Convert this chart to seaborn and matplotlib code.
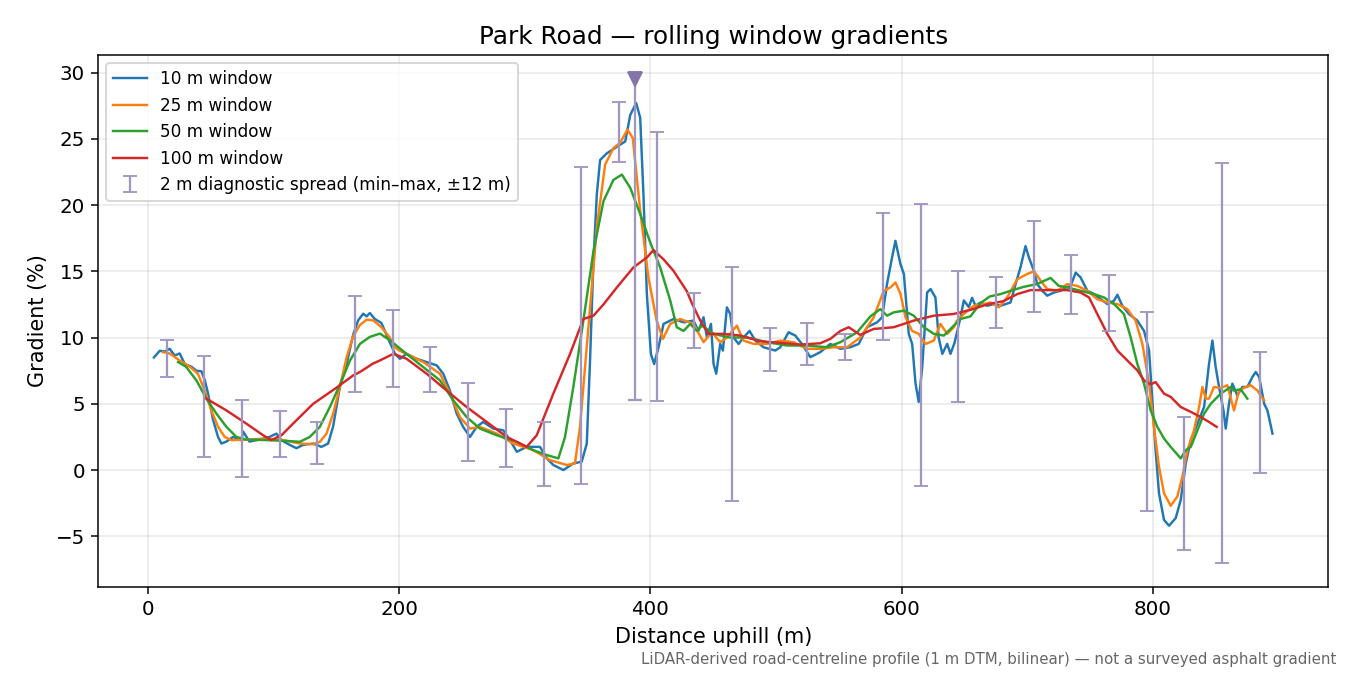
import numpy as np
import pandas as pd
import matplotlib
matplotlib.use("Agg")
import matplotlib.pyplot as plt
import seaborn as sns

# --- data ---
x10 = [5, 9.6, 13.5, 17.5, 21.5, 25.5, 29.5, 34.8, 38.8, 42.8, 45.4, 48, 52, 56, 58.7, 62.7, 68, 74.5, 76, 81,
       89, 97, 102.5, 106.5, 113, 118.4, 123.7, 131.7, 138.3, 143.6, 147.6, 153, 158.3, 163.5, 167.5, 171.5,
       174.2, 176.8, 180.8, 186, 191.4, 196.7, 200.7, 206, 214, 222, 230, 235.2, 240.5, 245.9, 251, 256.5,
       261.8, 267, 275, 283, 288.3, 293.7, 301.6, 312.2, 317.6, 322.8, 330.8, 338.7, 345.4, 349.4, 352,
       354.7, 357.4, 360, 365.3, 373.3, 380, 384, 388.7, 391.9, 394.5, 397.2, 400.4, 403, 406.5, 410.5,
       418.4, 426.4, 434.3, 438.3, 442.3, 445, 448.2, 450.3, 452.4, 455.6, 457.7, 460.9, 463.5, 466.2,
       470.2, 474.1, 478.9, 483.5, 490, 499.4, 503.4, 510, 515.3, 520.6, 527.3, 535.2, 543.2, 551.2,
       559.1, 565.8, 572.4, 580.4, 584.4, 588.3, 592.3, 595, 599, 601.7, 605.6, 608.3, 611, 613.5, 616.3,
       620.2, 622.9, 626.8, 629.4, 632.3, 636.2, 638.8, 642, 646.7, 649.4, 653.4, 656, 658.7, 662.7, 668,
       673.4, 678.6, 686.6, 690.6, 694.5, 698.5, 701.2, 705.2, 707.8, 711.8, 715.8, 721.1, 726.4, 730.4,
       734.4, 738.4, 742.3, 747.7, 753, 758.3, 763.6, 768.9, 771.6, 775.5, 780.8, 787.5, 792.8, 796.8,
       799.4, 802, 804.7, 808.7, 812.7, 818, 822, 826, 830, 835.3, 840.6, 844.5, 847.2, 849.8, 852.5, 856,
       857.8, 860.4, 863.1, 867, 871, 875, 879, 881.7, 884.4, 888.4, 891, 895]
y10 = [8.5, 9.0, 8.95, 9.15, 8.65, 8.8, 8.0, 7.8, 7.5, 7.45, 6.8, 5.8, 3.8, 2.5, 2.0, 2.15, 2.5, 2.25, 2.9, 2.15,
       2.3, 2.5, 2.75, 2.25, 1.9, 1.65, 1.9, 2.0, 1.75, 2.0, 3.3, 6.3, 8.0, 10.2, 11.3, 11.8,
       11.6, 11.85, 11.4, 11.1, 9.9, 8.8, 8.4, 8.77, 8.4, 8.15, 7.9, 7.27, 6.0, 4.26, 3.26, 2.5,
       3.26, 3.63, 3.13, 3.0, 2.26, 1.38, 1.75, 1.75, 0.88, 0.38, 0.0, 0.5, 0.63, 2.0, 8.27,
       15.8, 20.8, 23.4, 23.9, 24.4, 24.8, 26.8, 27.7, 26.6, 20.8, 13.3, 8.77, 8.0, 9.27, 11.03,
       11.4, 11.15, 11.28, 10.5, 11.53, 10.0, 11.03, 8.0, 7.27, 9.52, 9.02, 12.28, 11.78, 10.0,
       9.52, 10.0, 10.5, 9.77, 9.27, 9.02, 9.27, 10.4, 10.15, 9.52, 8.52, 8.9, 9.52, 9.15,
       9.27, 9.52, 10.78, 11.15, 11.53, 14.04, 16.04, 17.3, 15.54, 14.8, 10.28, 9.52, 6.52, 5.14, 7.77,
       13.4, 13.66, 13.03, 10.0, 8.77, 9.52, 8.77, 9.6, 11.5, 12.8, 12.3, 13.0, 12.4, 12.65, 12.4,
       12.53, 12.4, 12.65, 14.04, 15.3, 16.9, 16.04, 15.04, 14.04, 13.53, 13.16, 13.4, 13.53, 13.78,
       13.9, 14.9, 14.54, 13.53, 13.28, 12.9, 12.53, 12.78, 13.23, 12.4, 11.78, 11.28, 10.5, 9.02,
       5.26, 1.5, -1.75, -3.76, -4.2, -3.63, -2.26, 0.5, 2.26, 3.5, 4.76, 8.0, 9.77, 7.77, 6.27, 4.5,
       3.13, 5.0, 6.52, 5.64, 6.27, 6.27, 7.02, 7.4, 7.02, 5.0, 4.5, 2.75]

x25 = [12.2, 17.5, 25.5, 33.5, 40, 45.4, 50.7, 56, 61.3, 66.7, 81, 94.5, 107.8, 121, 131.7, 137, 142.3, 147.6,
       153, 158.3, 163.5, 168.9, 174.2, 179.5, 186, 192.7, 196, 200.7, 206, 219.3, 232.6, 240.5, 248.5,
       256.5, 264.4, 277.7, 291, 306.9, 320.2, 333.5, 340, 344, 350.7, 357.4, 364, 370.6, 376, 381.8, 386,
       392, 398.5, 405, 410, 415.8, 423.7, 434.3, 442.3, 448.9, 455.6, 460.9, 468.8, 474.1, 482.1, 492.8,
       503.4, 514, 524.6, 535.2, 545.9, 556.5, 567, 577.7, 585.7, 591, 595, 599, 603, 608.3, 613.5, 618.9,
       625.5, 630.8, 636.2, 641.4, 644, 649.4, 657.4, 665.4, 670.7, 677.3, 683.9, 691.9, 699.9, 705.2,
       710.5, 715.8, 723.8, 731.7, 739.7, 747.7, 755.6, 763.6, 771.6, 779.5, 786.1, 791.5, 796.8, 800.7,
       804.7, 808.7, 814, 819.3, 823.3, 827.3, 832.6, 836.6, 839.3, 841.9, 844.5, 848.5, 853.8, 859.1,
       864.4, 868.4, 873.7, 877.7, 883, 888.3]
y25 = [8.9, 8.8, 8.27, 7.8, 7.27, 6.0, 4.5, 3.26, 2.5, 2.26, 2.3, 2.38, 2.26, 2.0, 1.95, 2.13, 2.75, 4.26,
       6.27, 8.5, 10.1, 10.95, 11.35, 11.3, 10.78, 10.0, 9.3, 9.0, 8.77, 8.15, 7.27, 5.77, 4.0,
       3.13, 3.26, 2.75, 2.0, 1.5, 0.75, 0.38, 0.5, 3.26, 10.78, 18.3, 23.06, 24.3, 24.7, 25.7, 25.06,
       19.5, 14.5, 11.28, 9.9, 11.03, 11.4, 11.03, 9.65, 10.4, 9.65, 10.0, 10.9, 9.77, 9.52, 9.52,
       9.77, 9.65, 9.15, 9.15, 9.27, 9.27, 10.0, 11.53, 13.53, 13.78, 14.16, 13.3, 11.53, 10.5, 10.28, 9.52,
       9.77, 11.03, 10.28, 10.78, 11.28, 11.78, 12.4, 12.53, 12.65, 12.28, 13.03, 14.4, 14.8, 15.0,
       14.3, 13.66, 13.53, 14.04, 13.9, 13.53, 12.9, 12.65, 12.53, 12.15, 11.28, 9.52, 6.52, 3.26,
       0.25, -1.75, -2.7, -2.0, -0.5, 1.5, 3.0, 4.76, 6.27, 5.39, 5.39, 6.27, 6.2, 6.4,
       4.5, 6.0, 6.27, 6.4, 6.0, 5.26]

x50 = [24.2, 30.5, 38.8, 46.7, 54.7, 62.7, 70.6, 78.5, 94.5, 110.5, 121, 129, 137, 145, 153, 161, 168.9,
       176.8, 184.8, 192.7, 206, 219.3, 232.6, 243.2, 253.8, 264.4, 277.7, 293.7, 306.9, 317.6, 326.8,
       332.1, 338.7, 346.7, 354.7, 362.7, 370.6, 377.3, 384, 392, 399.8, 407.8, 415.8, 421, 426.4, 431.7,
       437, 441, 450.3, 463.5, 477.5, 492.8, 508.7, 524.6, 540.5, 551.2, 564.5, 575.1, 583, 588.3, 593.6,
       601.7, 609.6, 617.6, 625.5, 633.5, 638.8, 646.7, 654.7, 662.7, 670, 678.6, 686.6, 697.2, 707.8,
       718.4, 725, 731.7, 742.3, 753, 760.9, 768.9, 776.8, 782.2, 787.5, 792.8, 798.1, 803.4, 808.7, 814,
       822, 826, 830, 835.3, 840.6, 845.9, 853.8, 861.8, 864.4, 869.7, 875]
y50 = [8.15, 7.8, 6.77, 5.39, 4.26, 3.26, 2.5, 2.3, 2.26, 2.2, 2.13, 2.5, 3.26, 4.76, 6.45, 8.27, 9.52,
       10.05, 10.3, 9.8, 8.77, 7.77, 6.77, 5.26, 4.0, 3.13, 2.63, 2.13, 1.5, 1.13, 0.88,
       2.5, 6.27, 11.28, 16.5, 20.3, 21.9, 22.3, 21.3, 19.3, 17.2, 15.3, 12.8, 10.78, 10.5, 11.03,
       10.5, 10.9, 10.28, 10.0, 10.0, 9.65, 9.4, 9.4, 9.27, 9.65, 10.4, 11.6, 12.15, 11.65, 11.9,
       12.03, 11.65, 10.78, 10.28, 10.15, 10.65, 11.4, 11.6, 12.6, 13.1, 13.28, 13.53, 13.83, 14.04,
       14.5, 13.9, 13.78, 13.53, 13.28, 13.03, 12.53, 11.78, 10.0, 8.0, 6.52, 4.5, 3.26, 2.38, 1.75,
       0.88, 1.5, 1.75, 3.0, 4.26, 5.0, 5.77, 6.27, 6.0, 6.1, 5.39]

x100 = [46.7, 62.7, 78.6, 91.8, 98.5, 106.5, 118.4, 131.7, 150, 163.5, 168.9, 179.5, 184.8, 195.4, 206, 222,
        237.9, 253.8, 269.8, 285.7, 301.6, 309.6, 322.8, 336.1, 346.7, 354.7, 362.7, 373.3, 386.6, 397.2,
        402.5, 410.5, 418.4, 429, 433, 439.7, 446.3, 458.3, 471.5, 487.5, 503.4, 519.3, 535.2, 543.2,
        551.2, 557.8, 567, 577.7, 593.6, 609.6, 625.5, 641.4, 655, 668, 681, 691.9, 702.5, 718.4, 731.7,
        742.3, 749, 755.6, 763.6, 771.6, 779.5, 787.5, 792.8, 798.1, 802, 808.7, 814, 822, 830, 838, 844.5,
        850.6]
y100 = [5.39, 4.5, 3.5, 2.63, 2.26, 2.63, 3.76, 5.0, 6.2, 7.14, 7.4, 8.05, 8.27, 8.77, 8.4, 7.27,
        6.0, 4.76, 3.63, 2.5, 1.75, 2.63, 5.77, 8.77, 11.4, 11.65, 12.5, 13.78, 15.3, 16.04,
        16.6, 15.9, 15.04, 13.5, 12.6, 11.28, 10.28, 10.28, 10.15, 9.72, 9.6, 9.47, 9.57, 9.9,
        10.5, 10.78, 10.2, 10.65, 10.78, 11.28, 11.65, 11.78, 12.1, 12.5, 12.75, 13.28, 13.58, 13.58, 13.58,
        13.4, 13.03, 11.78, 10.28, 9.02, 8.27, 7.52, 6.77, 6.47, 6.64, 5.77, 5.52, 4.76, 4.39, 4.0, 3.63,
        3.26]

spread_x = list(range(15, 900, 30))
spread_lo = [7.0, 1.0, -0.5, 1.0, 0.43, 5.9, 6.27, 5.9, 0.65, 0.2, -1.18, -1.05, 23.25, 5.2, 9.2, -2.3,
             7.5, 7.9, 8.3, 9.85, -1.2, 5.1, 10.7, 11.95, 11.75, 10.5, -3.1, -6.0, -7.0, -0.2]
spread_hi = [9.8, 8.6, 5.3, 4.45, 3.63, 13.16, 12.1, 9.3, 6.6, 4.6, 3.63, 22.9, 27.8, 25.5, 13.4, 15.3,
             10.7, 11.1, 10.25, 19.4, 20.1, 15.06, 14.6, 18.8, 16.2, 14.7, 11.95, 4.0, 23.2, 8.9]

peak_x = 388
peak_lo = 5.3
peak_hi = 29.5

fig, ax = plt.subplots(figsize=(10, 5), dpi=135)
fig.subplots_adjust(left=0.0726, right=0.984, top=0.9185, bottom=0.1304)

series = [(x10, y10, "10 m window", "C0"),
          (x25, y25, "25 m window", "C1"),
          (x50, y50, "50 m window", "C2"),
          (x100, y100, "100 m window", "C3")]
for xs, ys, lab, col in series:
    df = pd.DataFrame({"d": xs, "g": ys})
    sns.lineplot(data=df, x="d", y="g", ax=ax, label=lab, color=col,
                 linewidth=1.3, estimator=None)

lo = np.array(spread_lo)
hi = np.array(spread_hi)
mid = (lo + hi) / 2
bar_col = "#a196c2"
ax.errorbar(spread_x, mid, yerr=[mid - lo, hi - mid], fmt="none", ecolor=bar_col,
            elinewidth=1.2, capsize=3.5, label="2 m diagnostic spread (min\u2013max, \u00b112 m)")

# peak spread: line up to the marker, cap only at the bottom
ax.vlines(peak_x, peak_lo, peak_hi, color=bar_col, linewidth=1.2)
ax.plot([peak_x], [peak_lo], marker="_", markersize=7, markeredgewidth=1.2,
        color=bar_col, linestyle="none")
ax.plot([peak_x], [peak_hi], marker="v", color="#8474a8", markersize=7, linestyle="none", zorder=5)

ax.grid(alpha=0.3)
ax.tick_params(labelsize=10.6)
ax.set_title("Park Road \u2014 rolling window gradients", fontsize=13.2)
ax.set_xlabel("Distance uphill (m)", fontsize=11.1)
ax.set_ylabel("Gradient (%)", fontsize=11.1)
ax.legend(loc="upper left", fontsize=9)

fig.text(0.99, 0.012, "LiDAR-derived road-centreline profile (1 m DTM, bilinear) \u2014 not a surveyed asphalt gradient",
         ha="right", va="bottom", fontsize=8, color="#666666")

fig.savefig("out.png")
